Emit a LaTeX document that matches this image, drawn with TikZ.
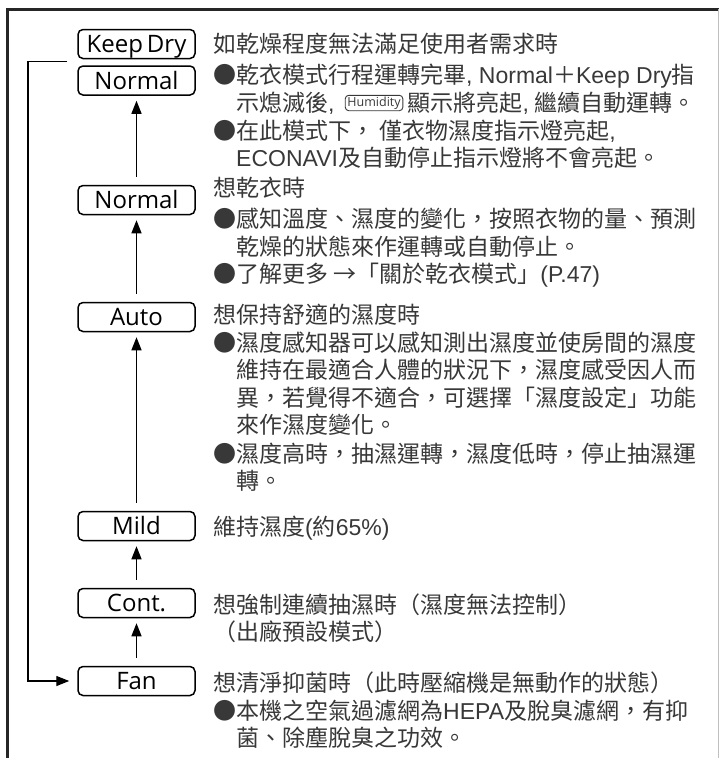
\documentclass[tikz,border=0pt]{standalone}
\usepackage{fontspec}
\setmainfont{Noto Sans CJK TC}
\newfontfamily\boxfont{Open Sans}
\newfontfamily\lat{Liberation Sans}
\usetikzlibrary{arrows.meta}
\definecolor{txt}{HTML}{383838}
\begin{document}
\begin{tikzpicture}[x=1pt,y=-1pt,
  modebox/.style={draw=black, line width=1.5pt, rounded corners=5pt, minimum width=117pt, minimum height=29pt, inner sep=0pt, text height=17pt, text depth=0pt, font=\boxfont\fontsize{24}{24}\selectfont},
  ln/.style={anchor=west, inner sep=0pt, text height=20.2pt, text depth=2.8pt, font=\fontsize{23}{23}\selectfont, text=txt},
  hum/.style={draw=txt, line width=0.9pt, rounded corners=3.5pt, inner xsep=2.2pt, inner ysep=1.8pt, text height=9pt, text depth=2.8pt, font=\boxfont\fontsize{12.5}{12.5}\selectfont, text=txt},
  up/.style={-{Triangle[length=13pt,width=10pt]}, line width=1.4pt, shorten <=8pt, shorten >=5pt},
  frame/.style={line width=3pt, draw=black!85}]
\useasboundingbox (0,0) rectangle (720,758);
% frame
\draw[frame] (7,758) -- (7,9) -- (718.5,9);
\draw[line width=0.8pt, draw=black!25] (718.5,9) -- (718.5,758);
% mode boxes
\node[modebox] (kd) at (136.5,44) {Keep\,Dry};
\node[modebox] (n1) at (136.5,80.5) {Normal};
\node[modebox] (n2) at (136.5,200) {Normal};
\node[modebox] (auto) at (136.5,317) {Auto};
\node[modebox] (mild) at (136.5,526) {Mild};
\node[modebox] (cont) at (136.5,603) {Cont.};
\node[modebox] (fan) at (136.5,681) {Fan};
% arrows
\draw[up] (n2.north) -- (n1.south);
\draw[up] (mild.north) -- (auto.south);
\draw[up] (auto.north) -- (n2.south);
\draw[up] (cont.north) -- (mild.south);
\draw[up] (fan.north) -- (cont.south);
\coordinate (lt) at (67,61.5);
\coordinate (lc) at (28,61.5);
\draw[-{Triangle[length=13pt,width=10pt]}, line width=1.4pt, shorten >=8pt] (lt) -- (lc) |- (fan.west);
% block 1
\node[ln] (a1) at (213,44) {如乾燥程度無法滿足使用者需求時};
\node[ln] (a2) at (213,75) {●乾衣模式行程運轉完畢{\lat, Normal}＋{\lat Keep Dry}指};
\node[ln] (a3) at (236,103) {示熄滅後{\lat ,}};
\node[hum, anchor=west] (hm) at ([xshift=10pt]a3.east) {Humidity};
\node[ln] (a3b) at ([xshift=4pt]hm.east) {顯示將亮起{\lat ,} 繼續自動運轉。};
\node[ln] (a4) at (213,131) {●在此模式下， 僅衣物濕度指示燈亮起{\lat ,}};
\node[ln] (a5) at (236,158) {{\lat ECONAVI}及自動停止指示燈將不會亮起。};
% block 2
\node[ln] (b1) at (213,188) {想乾衣時};
\node[ln] (b2) at (213,219) {●感知溫度、濕度的變化，按照衣物的量、預測};
\node[ln] (b3) at (236,247) {乾燥的狀態來作運轉或自動停止。};
\node[ln] (b4) at (213,274) {●了解更多 →「關於乾衣模式」{\lat (P.47)}};
% block 3
\node[ln] (c1) at (213,315) {想保持舒適的濕度時};
\node[ln] (c2) at (213,343) {●濕度感知器可以感知測出濕度並使房間的濕度};
\node[ln] (c3) at (236,370) {維持在最適合人體的狀況下，濕度感受因人而};
\node[ln] (c4) at (236,398) {異，若覺得不適合，可選擇「濕度設定」功能};
\node[ln] (c5) at (236,425) {來作濕度變化。};
\node[ln] (c6) at (213,454) {●濕度高時，抽濕運轉，濕度低時，停止抽濕運};
\node[ln] (c7) at (236,481) {轉。};
% block 4
\node[ln] (d1) at (213,527) {維持濕度{\lat (}約{\lat 65\%)}};
% block 5
\node[ln] (e1) at (213,605) {想強制連續抽濕時（濕度無法控制）};
\node[ln] (e2) at (213,632) {（出廠預設模式）};
% block 6
\node[ln] (f1) at (213,683) {想清淨抑菌時（此時壓縮機是無動作的狀態）};
\node[ln] (f2) at (213,711) {●本機之空氣過濾網為{\lat HEPA}及脫臭濾網，有抑};
\node[ln] (f3) at (236,738) {菌、除塵脫臭之功效。};
\end{tikzpicture}
\end{document}
